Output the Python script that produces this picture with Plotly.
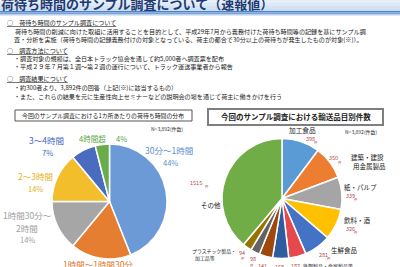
import plotly.graph_objects as go

W, H = 400, 267

# ---------------- data ----------------
wait_labels = ["30分～1時間", "1時間～1時間30分", "1時間30分～2時間", "2～3時間", "3～4時間", "4時間超"]
wait_pct = [44, 17, 14, 14, 7, 4]
wait_colors = ["#6C9AD6", "#E57E30", "#A6A6A6", "#F2BE2C", "#4A6CC0", "#6AAB4A"]

item_labels = ["加工食品", "建築・建設用金属製品", "紙・パルプ", "飲料・酒", "生鮮食品",
               "鉄鋼製品・金属製品等", "品目A", "品目B", "品目C", "プラスチック製品・加工品等", "その他"]
item_counts = [398, 350, 339, 326, 281, 182, 168, 141, 98, 94, 1515]
item_colors = ["#5B9BD5", "#ED7D31", "#A5A5A5", "#FFC000", "#4472C4", "#E5484D",
               "#2F5C9E", "#9E480E", "#636363", "#997300", "#70AD47"]

title_text = "荷待ち時間のサンプル調査について（速報値）"
body_lines = [
    ("<u>○　荷待ち時間のサンプル調査について</u>", 5, 23),
    ("荷待ち時間の削減に向けた取組に活用することを目的として、平成29年7月から義務付けた荷待ち時間等の記録を基にサンプル調", 13, 31),
    ("査・分析を実施（荷待ち時間の記録義務付けの対象となっている、荷主の都合で30分以上の荷待ちが発生したものが対象(※)）。", 12, 39),
    ("<u>○　調査方法について</u>", 5, 50),
    ("・調査対象の規模は、全日本トラック協会を通して約5,000者へ調査票を配布", 12, 59),
    ("・平成２９年７月第１週～第２週の運行について、トラック運送事業者から報告", 12, 67),
    ("<u>○　調査結果について</u>", 5, 78),
    ("・約300者より、3,892件の回答（上記(※)に該当するもの）", 12, 87),
    ("・また、これらの結果を元に生産性向上セミナーなどの説明会の場を通じて荷主に働きかけを行う", 12, 96),
]
left_box_title = "今回のサンプル調査における1カ所あたりの荷待ち時間の分布"
right_box_title = "今回のサンプル調査における輸送品目別件数"
n_text = "N=3,892(件数)"

FONT = "Noto Sans CJK JP"


def px(x):
    return x / W


def py(y):
    return 1 - y / H


fig = go.Figure()

fig.add_trace(go.Pie(
    values=wait_pct, labels=wait_labels, sort=False, direction="clockwise", rotation=0,
    textinfo="none", hoverinfo="skip", showlegend=False,
    marker=dict(colors=wait_colors, line=dict(color="white", width=1.5)),
    domain=dict(x=[px(52), px(167)], y=[py(259), py(144)]),
))
fig.add_trace(go.Pie(
    values=item_counts, labels=item_labels, sort=False, direction="clockwise", rotation=0,
    textinfo="none", hoverinfo="skip", showlegend=False,
    marker=dict(colors=item_colors, line=dict(color="white", width=1.5)),
    domain=dict(x=[px(222), px(342)], y=[py(259), py(138)]),
))

shapes = []
# banner
banner = ["#E6EFF9", "#DDE9F6", "#D4E3F3", "#CBDDF1"]
for i, c in enumerate(banner):
    shapes.append(dict(type="rect", xref="paper", yref="paper", x0=0, x1=1,
                       y0=py(3 * (i + 1)), y1=py(3 * i), fillcolor=c, line=dict(width=0), layer="below"))
stripe = [("#4F82C8", 11, 12.5), ("#7AA3DA", 12.5, 14), ("#B9D0EE", 14, 15.5)]
for c, a, b in stripe:
    shapes.append(dict(type="rect", xref="paper", yref="paper", x0=0, x1=1,
                       y0=py(b), y1=py(a), fillcolor=c, line=dict(width=0), layer="below"))
# title boxes
shapes.append(dict(type="rect", xref="paper", yref="paper", x0=px(15), x1=px(192),
                   y0=py(121), y1=py(110), line=dict(color="#555555", width=1), fillcolor="rgba(0,0,0,0)"))
shapes.append(dict(type="rect", xref="paper", yref="paper", x0=px(208), x1=px(383),
                   y0=py(125), y1=py(109), line=dict(color="#7F7F7F", width=2), fillcolor="rgba(0,0,0,0)"))

ann = []


def txt(t, x, y, size, color="#222222", anchor="center", bold=False, yanchor="middle"):
    if bold:
        t = "<b>" + t + "</b>"
    ann.append(dict(text=t, x=px(x), y=py(y), xref="paper", yref="paper", xanchor=anchor,
                    yanchor=yanchor, showarrow=False, align=anchor if anchor != "center" else "center",
                    font=dict(family=FONT, size=size, color=color)))


txt(title_text, -1, 3, 13, "#1F3A70", anchor="left", bold=True)
for t, x, y in body_lines:
    txt(t, x, y, 6.1, "#222222", anchor="left")

txt(left_box_title, 103.5, 115.5, 5.9, "#222222")
txt(right_box_title, 295.5, 117, 7.5, "#222222", bold=True)
txt(n_text, 167, 129, 5, "#333333")
txt(n_text, 361, 132, 5, "#333333")

# left pie labels
wc = ["#5E8ED0", "#E2782A", "#9E9E9E", "#E9B020", "#4466BB", "#5EA33E"]
txt(wait_labels[0], 169, 150, 8.5, wc[0])
txt(f"{wait_pct[0]}%", 170, 162, 7.5, wc[0])
txt(wait_labels[1], 98, 264, 8.5, wc[1])
txt("1時間30分～", 27, 215, 8.5, wc[2])
txt("2時間", 27, 228, 8.5, wc[2])
txt(f"{wait_pct[2]}%", 27, 239, 7.5, wc[2])
txt(wait_labels[3], 35, 176, 8.5, wc[3])
txt(f"{wait_pct[3]}%", 35, 188, 7.5, wc[3])
txt(wait_labels[4], 46, 140, 8.5, wc[4])
txt(f"{wait_pct[4]}%", 47, 152, 7.5, wc[4])
txt(wait_labels[5], 92, 138, 7.5, wc[5])
txt(f"{wait_pct[5]}%", 121, 138, 7.5, wc[5])

# right pie labels
nc = "#B5484A"


def num(i, x, y, kx=None, ky=None):
    txt(str(item_counts[i]), x, y, 5.5, nc)
    txt("件", x + 6 if kx is None else kx, y + 3 if ky is None else ky, 3.5, nc)


txt(item_labels[0], 302, 130, 6.7)
num(0, 310, 139)
txt("建築・建設", 349, 157, 6.5, anchor="left")
txt("用金属製品", 351, 166, 6.5, anchor="left")
num(1, 333, 158, 340, 162)
txt(item_labels[2], 360, 187, 6.5)
num(2, 350, 196)
txt(item_labels[3], 357, 220, 6.5)
num(3, 350, 229)
txt(item_labels[4], 344, 250, 6.5)
num(4, 323, 255)
num(5, 295, 266)
txt(item_labels[5], 301, 266, 5, anchor="left")
num(6, 279, 267)
num(7, 262, 266)
num(8, 253, 259, 252, 265)
num(9, 242, 253, 243, 258)
txt("プラスチック製品・", 238, 251, 4.9, anchor="right")
txt("加工品等", 193, 258, 4.9, anchor="left")
txt(item_labels[10], 199, 205, 6.5, anchor="left")
txt(str(item_counts[10]), 204, 183, 5.5, nc, anchor="right")
txt("件", 207, 186, 3.5, nc)

fig.update_layout(
    width=W, height=H, margin=dict(l=0, r=0, t=0, b=0),
    paper_bgcolor="white", plot_bgcolor="white",
    shapes=shapes, annotations=ann,
)

fig.write_html("out.html")
